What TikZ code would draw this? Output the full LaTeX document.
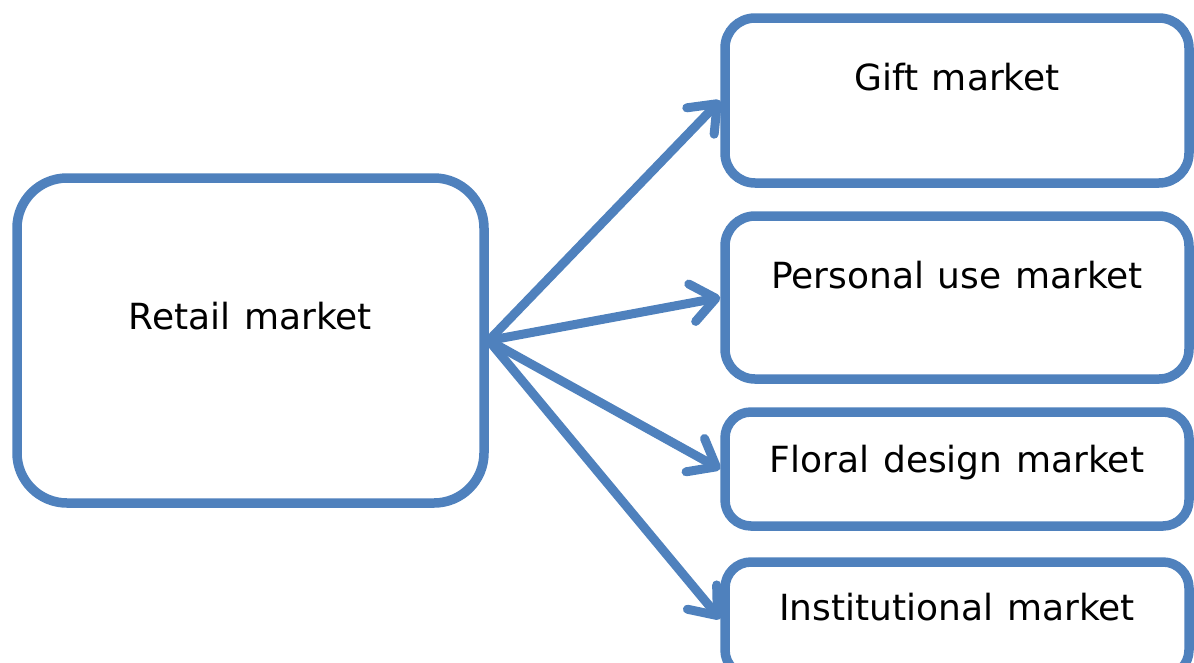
\documentclass[tikz,border=0pt]{standalone}
\usepackage{fontspec}
\setmainfont{DejaVu Sans}[WordSpace=1.2]
\usetikzlibrary{arrows.meta}
\definecolor{boxblue}{RGB}{79,129,189}
\tikzset{
  box/.style={draw=boxblue, line width=9.5pt, fill=white, inner sep=0pt,
    font=\fontsize{36}{43}\selectfont, text height=28pt, align=center},
  conn/.style={draw=boxblue, line width=9pt, line cap=round,
    -{Straight Barb[length=24pt, width=38pt, round]}}
}
\begin{document}
\begin{tikzpicture}[x=1pt, y=-1pt]
\useasboundingbox (0,0) rectangle (1194,662);
\clip (0,0) rectangle (1194,662);
\node[box, rounded corners=50pt, minimum width=467pt, minimum height=325pt, text depth=50.8pt] (retail) at (250.5,340.5) {Retail market};
\node[box, rounded corners=30pt, minimum width=464pt, minimum height=165pt, text depth=48.8pt] (gift) at (957,100.5) {Gift market};
\node[box, rounded corners=30pt, minimum width=464pt, minimum height=163pt, text depth=46.8pt] (personal) at (957,297.5) {Personal use market};
\node[box, rounded corners=26pt, minimum width=464pt, minimum height=114pt, text depth=20.8pt] (floral) at (957,469) {Floral design market};
\node[box, rounded corners=26pt, minimum width=464pt, minimum height=114pt, text depth=24.8pt] (inst) at (957,619) {Institutional market};
\draw[conn] (retail.east) -- (gift.west);
\draw[conn] (retail.east) -- (personal.west);
\draw[conn] (retail.east) -- (floral.west);
\draw[conn] (retail.east) -- (inst.west);
\end{tikzpicture}
\end{document}
